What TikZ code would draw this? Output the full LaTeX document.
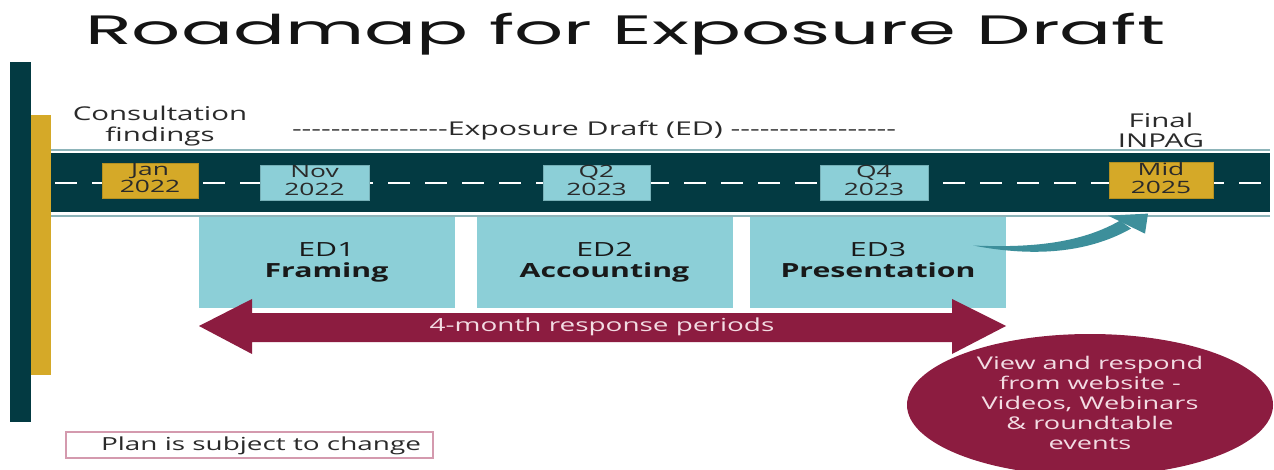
\documentclass[tikz,border=0pt]{standalone}
\usepackage{fontspec}
\setmainfont{Open Sans}
\newfontfamily\titlefont{Poppins}
\newfontfamily\plainfont{Open Sans}[Ligatures=TeXOff]
\usepackage{graphicx}
\usetikzlibrary{shapes.geometric,calc}
\definecolor{darkteal}{HTML}{033A42}
\definecolor{gold}{HTML}{D5A928}
\definecolor{lteal}{HTML}{8CCFD7}
\definecolor{maroon}{HTML}{8C1C40}
\definecolor{arrteal}{HTML}{3D8F9B}
\definecolor{bandline}{HTML}{8DB4B9}
\definecolor{pinktxt}{HTML}{F3DCE3}
\definecolor{planline}{HTML}{D49AAE}
\definecolor{txt}{HTML}{2A2A2A}
\newcommand{\sx}[1]{\scalebox{1.55}[1]{#1}}
\newcommand{\sxl}[1]{\scalebox{1.55}[1]{\begin{tabular}{@{}c@{}}#1\end{tabular}}}
\begin{document}
\begin{tikzpicture}[x=1pt,y=-1pt,
  datebox/.style={fill=#1, draw=#1!85!black, line width=0.8pt, minimum height=35pt,
    inner sep=0pt, text=txt, font=\fontsize{17}{17}\selectfont},
  edbox/.style={fill=lteal, minimum width=256pt, minimum height=91pt, inner sep=0pt,
    text=black!90, font=\fontsize{19.5}{21}\selectfont},
  label/.style={inner sep=0pt, text=txt, font=\fontsize{19}{20}\selectfont}
]
\useasboundingbox (0,0) rectangle (1274,470);
\fill[white] (0,0) rectangle (1274,470);

% title
\node[anchor=base west, inner sep=0pt, text=black!92, font=\titlefont\fontsize{41}{41}\selectfont]
  (title) at (85,45) {\resizebox{1080pt}{\height}{Roadmap for Exposure Draft}};

% side bars
\fill[darkteal] (10,62) rectangle (31,422);
\fill[gold] (31,115) rectangle (51,375);

% band
\draw[bandline, line width=1.5pt] (51,150) -- (1270,150);
\draw[bandline, line width=1.5pt] (51,216) -- (1270,216);
\fill[darkteal] (51,153) rectangle (1270,212);
\draw[white, line width=2.7pt, dash pattern=on 22pt off 15pt, dash phase=-2pt] (53,183) -- (1270,183);

% date boxes
\node[datebox=gold, minimum width=96pt] (jan) at (150,180.5) {\sxl{Jan\\2022}};
\node[datebox=lteal, minimum width=109pt] (nov) at (314.5,183) {\sxl{Nov\\2022}};
\node[datebox=lteal, minimum width=107pt] (q2) at (596.5,183) {\sxl{Q2\\2023}};
\node[datebox=lteal, minimum width=108pt] (q4) at (874,183) {\sxl{Q4\\2023}};
\node[datebox=gold, minimum width=104pt] (mid) at (1161,180.5) {\sxl{Mid\\2025}};

% labels above band
\node[label] (consult) at (160,127) {\sxl{Consultation\\findings}};
\node[label, font=\plainfont\fontsize{19}{20}\selectfont] (expo) at (594,131)
  {\resizebox{604pt}{\height}{----------------Exposure Draft (ED) -----------------}};
\node[label] (final) at (1161,133) {\sxl{Final\\INPAG}};

% ED boxes
\node[edbox] (ed1) at (326.5,262.5) {\sxl{ED1\\\textbf{Framing}}};
\node[edbox] (ed2) at (604.5,262.5) {\sxl{ED2\\\textbf{Accounting}}};
\node[edbox] (ed3) at (878,262.5) {\sxl{ED3\\\textbf{Presentation}}};

% double arrow
\fill[maroon] (199,326) -- (252,299) -- (252,313) -- (952,313) -- (952,299) -- (1006,326)
  -- (952,354) -- (952,342) -- (252,342) -- (252,354) -- cycle;
\node[inner sep=0pt, text=pinktxt, font=\fontsize{18}{18}\selectfont] (resp) at (602,327) {\sx{4-month response periods}};

% ellipse
\node[ellipse, fill=maroon, minimum width=366pt, minimum height=142pt, inner sep=0pt,
  text=pinktxt, font=\fontsize{17.5}{20}\selectfont] (view) at (1090,405)
  {\sxl{View and respond\\from website -\\Videos, Webinars\\\& roundtable\\events}};

% plan box
\node[draw=planline, line width=1.2pt, fill=white, minimum width=367pt, minimum height=26pt, inner sep=0pt] (plan) at (249.5,445) {};
\node[inner sep=0pt, text=txt, font=\fontsize{18}{18}\selectfont] (plantext) at (261,446) {\sx{Plan is subject to change}};

% curved arrow ED3 -> Mid 2025
\coordinate (arrS) at ([xshift=-33pt,yshift=17pt]ed3.east);
\coordinate (arrT) at ([xshift=-13pt,yshift=-15pt]mid.south);
\fill[arrteal] (arrS) .. controls ($(arrS)+(67,3)$) and ($(arrT)+(-63,27)$) .. ($(arrT)+(-28,7)$)
  -- ($(arrT)+(-17,15)$) .. controls ($(arrT)+(-56,37)$) and ($(arrS)+(67,13)$) .. (arrS) -- cycle;
\fill[arrteal] ($(arrT)+(-40,2)$) -- (arrT) -- ($(arrT)+(-3,20)$) -- cycle;
\end{tikzpicture}
\end{document}
